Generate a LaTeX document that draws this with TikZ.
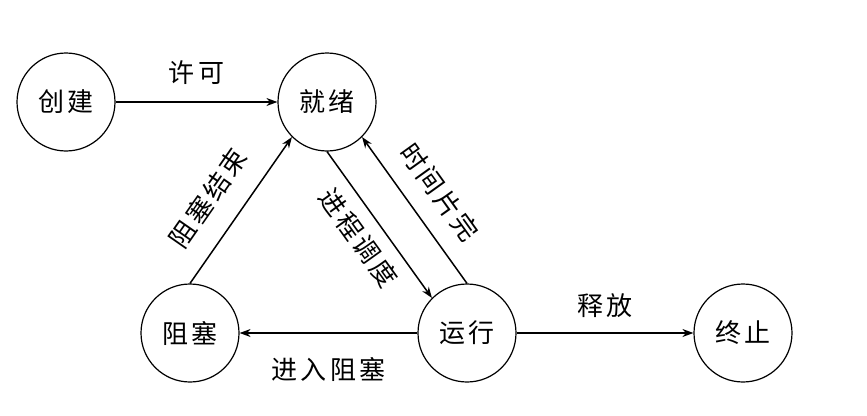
\documentclass[tikz,border=0pt]{standalone}
\usepackage{fontspec}
\setmainfont{Noto Sans CJK SC}[LetterSpace=12]
\usetikzlibrary{arrows.meta}
\tikzset{
  state/.style={circle, draw, line width=1.2pt, minimum size=98pt, inner sep=0pt, font=\fontsize{26}{30}\selectfont},
  arr/.style={line width=1.5pt, -{Stealth[length=11pt,width=8pt]}},
  lbl/.style={inner sep=0pt, font=\fontsize{26}{30}\selectfont}
}
\begin{document}
\begin{tikzpicture}[x=1pt,y=-1pt]
\useasboundingbox (0,0) rectangle (867,415);
\node[state] (cj) at (66,102) {创建};
\node[state] (jx) at (327,102) {就绪};
\node[state] (zs) at (190,333) {阻塞};
\node[state] (yx) at (467,333) {运行};
\node[state] (zz) at (743,333) {终止};
\draw[arr] (cj) -- node[lbl, above=17pt] {许可} (jx);
\draw[arr] (yx) -- node[lbl, above=15pt] {释放} (zz);
\draw[arr] (yx) -- node[lbl, below=24pt] {进入阻塞} (zs);
\draw[arr] (zs.north) -- node[lbl, sloped, pos=0.45, above=21pt] {阻塞结束} (jx.south west);
\draw[arr] (jx.south) -- node[lbl, sloped, pos=0.49, below=12pt] {进程调度} (yx.north west);
\draw[arr] (yx.north) -- node[lbl, sloped, pos=0.5, above=18pt] {时间片完} (jx.south east);
\end{tikzpicture}
\end{document}
